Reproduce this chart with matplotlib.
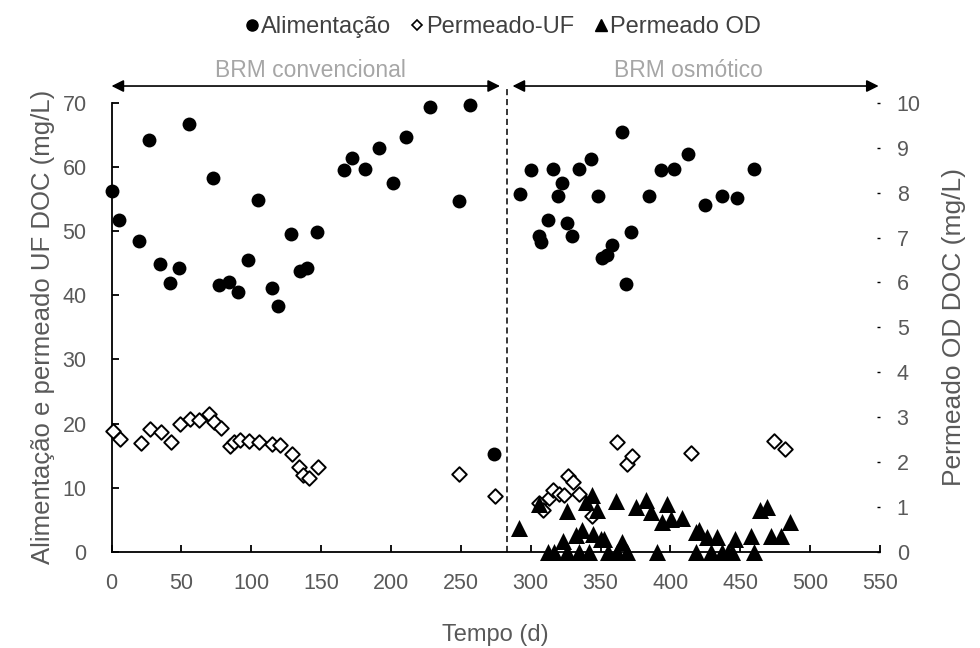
import matplotlib
matplotlib.use("Agg")
import matplotlib.pyplot as plt
from matplotlib.lines import Line2D

plt.rcParams["font.family"] = ["Liberation Sans", "DejaVu Sans"]

# Alimentação (left axis, mg/L)
alim_x = [0.6, 5.4, 19.9, 26.8, 34.6, 41.6, 48.5, 55.4, 72.7, 77, 84.1, 90.8, 97.7, 104.6,
          114.9, 119, 128.4, 134.6, 139.9, 147, 166.5, 172.2, 181.3, 191.5, 201.8, 210.8,
          228.2, 248.4, 256.6, 273.7,
          292, 299.9, 305.6, 307.7, 312.3, 315.8, 319.4, 322.7, 326.1, 329.6, 334.2, 343.4,
          348, 351.3, 354.9, 358.2, 365.1, 368.4, 372, 384.6, 393.4, 402.7, 412.7, 424.6,
          437, 447.3, 459.9]
alim_y = [56.2, 51.7, 48.5, 64.2, 44.8, 41.9, 44.3, 66.7, 58.2, 41.6, 42.0, 40.5, 45.5, 54.9,
          41.2, 38.4, 49.5, 43.8, 44.3, 49.8, 59.5, 61.4, 59.7, 62.9, 57.5, 64.7,
          69.4, 54.7, 69.7, 15.3,
          55.7, 59.5, 49.3, 48.3, 51.7, 59.7, 55.5, 57.5, 51.3, 49.3, 59.7, 61.2,
          55.5, 45.8, 46.3, 47.8, 65.4, 41.8, 49.8, 55.5, 59.5, 59.7, 62.0, 54.0,
          55.5, 55.2, 59.7]

# Permeado-UF (left axis, mg/L)
uf_x = [0.8, 6.1, 20.9, 27.5, 35.6, 42.3, 48.9, 56.1, 62.7, 69.9, 73.2, 78, 84.6, 88, 91.8,
        98.4, 105.6, 115.1, 120.4, 129.4, 134.1, 137, 141.3, 147.5, 248.9, 274.1,
        306, 308.9, 313.2, 316.3, 319.9, 323.7, 326.6, 330.4, 334.6, 343.7, 362, 368.7,
        372.3, 414.8, 474.1, 482.3]
uf_y = [18.8, 17.6, 17.0, 19.2, 18.7, 17.2, 20.0, 20.7, 20.5, 21.5, 20.2, 19.4, 16.5, 17.1, 17.5,
        17.3, 17.2, 16.8, 16.7, 15.2, 13.3, 12.0, 11.6, 13.3, 12.2, 8.7,
        7.6, 6.6, 8.4, 9.7, 9.1, 8.9, 11.9, 10.9, 9.1, 5.6, 17.2, 13.7,
        15.0, 15.5, 17.3, 16.0]

# Permeado OD (right axis, mg/L)
od_x = [291.3, 305.6, 325.8, 339.4, 343.7, 347.7, 360.8, 375.1, 382.3, 385.9, 397.7, 394.1,
        400.1, 408.2, 418.0, 420.4, 426.3, 433.4, 446.1, 457.3, 464.4, 469.2, 472.3, 479.4,
        485.8, 337.0, 332.7, 323.0, 344.4, 350.1, 352.5, 365.0,
        312.7, 316.8, 326.3, 334.6, 341.8, 355.5, 362.0, 369.1, 390.6, 418.5, 428.7, 437,
        441, 444.2, 459.6]
od_y = [0.53, 1.08, 0.92, 1.12, 1.27, 0.93, 1.14, 1.01, 1.15, 0.9, 1.07, 0.67,
        0.73, 0.76, 0.45, 0.5, 0.33, 0.33, 0.28, 0.36, 0.93, 1.01, 0.36, 0.36,
        0.67, 0.5, 0.37, 0.24, 0.4, 0.28, 0.28, 0.22,
        0, 0, 0, 0, 0, 0, 0, 0, 0, 0, 0, 0,
        0, 0, 0]

x_ticks = list(range(0, 551, 50))
left_ticks = list(range(0, 71, 10))
right_ticks = list(range(0, 11))
switch_day = 283
phase_labels = ["BRM convencional", "BRM osmótico"]

gray = "#595959"

fig = plt.figure(figsize=(9.8, 6.48), dpi=100)
ax = fig.add_axes([0.1138, 0.1481, 0.7842, 0.6934])
ax2 = ax.twinx()

ax.scatter(alim_x, alim_y, s=100, marker="o", color="black", linewidths=0, zorder=3, clip_on=False)
ax.scatter(uf_x, uf_y, s=55, marker="D", facecolor="white", edgecolor="black",
           linewidths=1.4, zorder=4, clip_on=False)
ax2.scatter(od_x, od_y, s=150, marker="^", color="black", linewidths=0, clip_on=False)

ax.set_xlim(0, 550)
ax.set_ylim(0, 70)
ax2.set_ylim(0, 10)
ax.set_xticks(x_ticks)
ax.set_yticks(left_ticks)
ax2.set_yticks(right_ticks)

for spine in ["top", "right"]:
    ax.spines[spine].set_visible(False)
for spine in ["top", "right", "left", "bottom"]:
    ax2.spines[spine].set_visible(False)
ax.spines["left"].set_linewidth(1.3)
ax.spines["bottom"].set_linewidth(1.3)

ax.tick_params(axis="x", direction="in", length=5, width=1.3, pad=15, labelsize=15.5, labelcolor=gray)
ax.tick_params(axis="y", direction="in", length=5, width=1.3, pad=18, labelsize=15.5, labelcolor=gray)
ax2.tick_params(axis="y", direction="in", length=2, width=1, pad=12, labelsize=15.5, labelcolor=gray)

ax.set_xlabel("Tempo (d)", fontsize=17, color=gray)
ax.set_ylabel("Alimentação e permeado UF DOC (mg/L)", fontsize=18.5, color=gray)
ax2.set_ylabel("Permeado OD DOC (mg/L)", fontsize=19, color=gray)
ax.xaxis.set_label_coords(0.5, -0.16)
ax.yaxis.set_label_coords(-0.074, 0.5)
ax2.yaxis.set_label_coords(1.081, 0.5)

# phase separator and arrows
arrow_y = 72.6
ax.plot([switch_day, switch_day], [0, arrow_y], ls=(0, (4, 2.5)), color="black", lw=1.1, clip_on=False)
ax.annotate("", xy=(0, arrow_y), xytext=(278, arrow_y), annotation_clip=False,
            arrowprops=dict(arrowstyle="<|-|>", color="black", lw=1.2, mutation_scale=18,
                            shrinkA=0, shrinkB=0))
ax.annotate("", xy=(287, arrow_y), xytext=(549, arrow_y), annotation_clip=False,
            arrowprops=dict(arrowstyle="<|-|>", color="black", lw=1.2, mutation_scale=18,
                            shrinkA=0, shrinkB=0))
ax.text(142, 75.0, phase_labels[0], ha="center", va="center", fontsize=16.5, color="#a6a6a6", clip_on=False)
ax.text(413, 75.0, phase_labels[1], ha="center", va="center", fontsize=16.5, color="#a6a6a6", clip_on=False)

handles = [
    Line2D([], [], ls="", marker="o", color="black", markersize=8),
    Line2D([], [], ls="", marker="D", markerfacecolor="white", markeredgecolor="black",
           markersize=5, markeredgewidth=1.2),
    Line2D([], [], ls="", marker="^", color="black", markersize=8),
]
fig.legend(handles, ["Alimentação", "Permeado-UF", "Permeado OD"], loc="upper center",
           bbox_to_anchor=(0.513, 1.008), ncol=3, frameon=False, fontsize=17,
           handlelength=0.6, handletextpad=0.1, columnspacing=0.8, labelcolor="#404040")

fig.savefig("out.png", dpi=100)
